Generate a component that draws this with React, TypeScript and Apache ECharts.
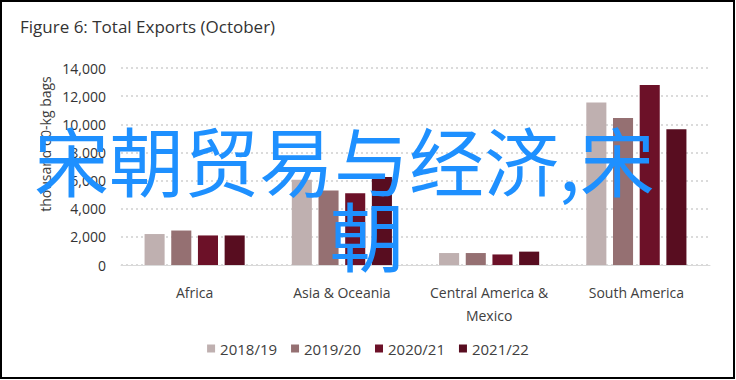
import React, { useEffect, useRef } from "react";
import * as echarts from "echarts";

const categories = ["Africa", "Asia & Oceania", "Central America &\nMexico", "South America"];
const seriesNames = ["2018/19", "2019/20", "2020/21", "2021/22"];
const s2018 = [2200, 6050, 850, 11550];
const s2019 = [2450, 5300, 850, 10450];
const s2020 = [2100, 5100, 750, 12800];
const s2021 = [2100, 6250, 950, 9650];
const colors = ["#bfb0b0", "#957072", "#6c1128", "#580d20"];
const yTicks = { min: 0, max: 14000, interval: 2000 };
const titleText = "Figure 6: Total Exports (October)";
const yName = "thousand 60-kg bags";
const watermarkLine1 = "宋朝贸易与经济,宋";
const watermarkLine2 = "朝";

export default function App() {
  const ref = useRef<HTMLDivElement>(null);
  useEffect(() => {
    if (!ref.current) return;
    const chart = echarts.init(ref.current, null, { renderer: "svg" });
    const font = "'Open Sans', sans-serif";
    const cjk = "'Noto Sans CJK SC', sans-serif";
    const data = [s2018, s2019, s2020, s2021];
    chart.setOption({
      animation: false,
      backgroundColor: "#fff",
      textStyle: { fontFamily: font },
      title: {
        text: titleText,
        left: 15,
        top: 13,
        textStyle: { fontSize: 17, fontWeight: "normal", color: "#333", fontFamily: font },
      },
      grid: { left: 121, right: 26, top: 68, bottom: 115 },
      legend: {
        bottom: 19,
        left: "center",
        itemWidth: 8,
        itemHeight: 8,
        itemGap: 14,
        icon: "rect",
        textStyle: { fontSize: 15, color: "#404040", fontFamily: font },
        data: seriesNames,
      },
      xAxis: {
        type: "category",
        data: categories,
        axisTick: { show: false },
        axisLine: { lineStyle: { color: "#d9d9d9", width: 1 } },
        axisLabel: {
          interval: 0,
          color: "#404040",
          fontSize: 14,
          margin: 16,
          lineHeight: 23,
          fontFamily: font,
        },
      },
      yAxis: {
        type: "value",
        min: yTicks.min,
        max: yTicks.max,
        interval: yTicks.interval,
        axisLabel: {
          color: "#333",
          fontSize: 14,
          margin: 15,
          fontFamily: font,
          formatter: (v: number) => v.toLocaleString("en-US"),
        },
        axisLine: { show: false },
        axisTick: { show: false },
        splitLine: { lineStyle: { color: "#cfcfcf", type: [2, 3], width: 1.5 } },
      },
      series: seriesNames.map((name, i) => ({
        name,
        type: "bar",
        data: data[i],
        itemStyle: { color: colors[i] },
        barGap: "33%",
        barCategoryGap: "32%",
      })),
      graphic: [
        {
          type: "text",
          x: 45,
          y: 144,
          rotation: Math.PI / 2,
          style: {
            text: yName,
            fill: "#404040",
            fontSize: 14,
            fontFamily: font,
            align: "center",
            verticalAlign: "middle",
          },
        },
        {
          type: "text",
          x: 34,
          y: 158,
          z: 100,
          style: {
            text: watermarkLine1,
            fill: "#1e90ff",
            fontSize: 75,
            fontFamily: cjk,
            align: "left",
            verticalAlign: "middle",
          },
        },
        {
          type: "text",
          x: 367,
          y: 233,
          z: 100,
          style: {
            text: watermarkLine2,
            fill: "#1e90ff",
            fontSize: 75,
            fontFamily: cjk,
            align: "center",
            verticalAlign: "middle",
          },
        },
        {
          type: "rect",
          shape: { x: 1, y: 1, width: 733, height: 377 },
          style: { fill: "none", stroke: "#000", lineWidth: 2 },
          z: 100,
        },
      ],
    });
    return () => chart.dispose();
  }, []);
  return (
    <div
      ref={ref}
      style={{ position: "fixed", left: 0, top: 0, width: 736, height: 380 }}
    />
  );
}
